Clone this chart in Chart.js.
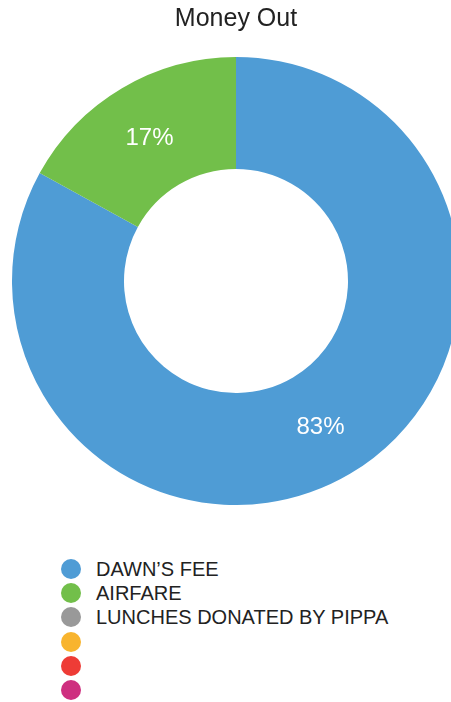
<!DOCTYPE html>
<html>
<head>
<meta charset="utf-8">
<script src="https://cdn.jsdelivr.net/npm/chart.js@4/dist/chart.umd.min.js"></script>
<style>
  html, body { margin: 0; padding: 0; background: #fff; overflow: hidden; }
  body { width: 451px; height: 702px; position: relative; }
  #wrap { position: absolute; left: 0; top: 0; width: 472px; height: 505px; }
  #legend { position: absolute; left: 61px; top: 557px; font-family: "Liberation Sans", Arial, sans-serif; font-size: 20px; color: #222; }
  .row { height: 24.2px; display: flex; align-items: center; }
  .dot { width: 20px; height: 20px; border-radius: 50%; margin-right: 15px; flex: none; }
</style>
</head>
<body>
<div id="wrap"><canvas id="money-out"></canvas></div>
<div id="legend"></div>
<script>
/* DATOS */
const titulo = "Money Out"
const categorias = ["DAWN\u2019S FEE", "AIRFARE", "LUNCHES DONATED BY PIPPA", "", "", ""]
const valores = [83, 17, 0, 0, 0, 0]
const colores = ["#4F9CD5", "#72BF4A", "#999999", "#F8B42E", "#EE3C36", "#CE2F7F"]

let moneyOutCanvas = document.getElementById("money-out").getContext("2d")

/* porcentajes dentro de cada segmento */
const etiquetasPorcentaje = {
    id: "etiquetasPorcentaje",
    afterDatasetsDraw(chart) {
        let ctx = chart.ctx
        let meta = chart.getDatasetMeta(0)
        let data = chart.data.datasets[0].data
        let total = data.reduce((a, b) => a + b, 0)
        ctx.save()
        ctx.fillStyle = "#ffffff"
        ctx.font = "24px 'Liberation Sans', Arial, sans-serif"
        ctx.textAlign = "center"
        ctx.textBaseline = "middle"
        for (let i = 0; i < meta.data.length; i++) {
            if (data[i] <= 0) continue
            let pos = meta.data[i].tooltipPosition()
            ctx.fillText(Math.round(data[i] / total * 100) + "%", pos.x - 1, pos.y + 2)
        }
        ctx.restore()
    }
}

let dataMoneyOut = {
    type: "doughnut",
    data: {
        labels: categorias,
        datasets: [{
            data: valores,
            backgroundColor: colores,
            borderWidth: 0
        }]
    },
    options: {
        responsive: true,
        maintainAspectRatio: false,
        animation: false,
        cutout: "50%",
        layout: { padding: 0 },
        plugins: {
            legend: { display: false },
            tooltip: { enabled: false },
            title: {
                display: true,
                text: titulo,
                color: "#222",
                font: { family: "'Liberation Sans', Arial, sans-serif", size: 25, weight: "normal" },
                padding: { top: 4, bottom: 23 }
            }
        }
    },
    plugins: [etiquetasPorcentaje]
}

var chart = new Chart(moneyOutCanvas, dataMoneyOut)

/* leyenda vertical */
let legend = document.getElementById("legend")
for (let i = 0; i < categorias.length; i++) {
    let row = document.createElement("div")
    row.className = "row"
    row.innerHTML = `<span class="dot" style="background:${colores[i]}"></span><span>${categorias[i]}</span>`
    legend.appendChild(row)
}
</script>
</body>
</html>
